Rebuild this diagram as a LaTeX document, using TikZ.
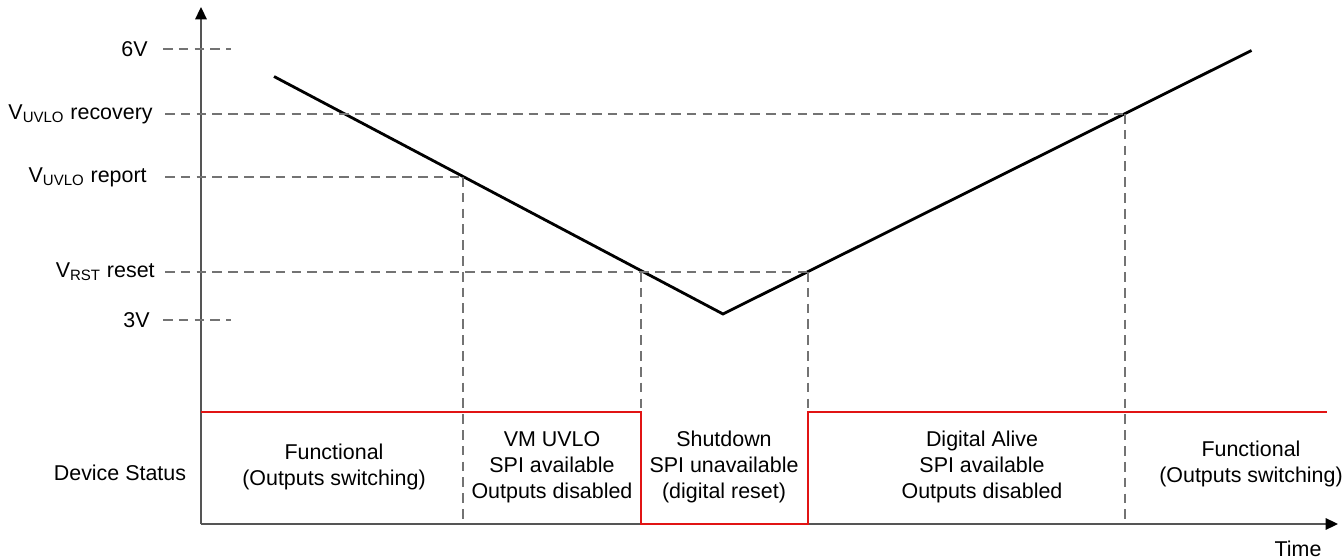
\documentclass[tikz,border=0pt]{standalone}
\usepackage{fontspec}
\setmainfont{Liberation Sans}
\usepackage{xcolor}
\usepackage{tikz}
\usetikzlibrary{arrows.meta}
\definecolor{axisgr}{RGB}{85,85,85}
\definecolor{guidegr}{RGB}{115,115,115}
\definecolor{statred}{RGB}{225,20,20}

\begin{document}
\begin{tikzpicture}[x=0.02cm,y=-0.02cm,
    every node/.style={font=\fontsize{12.2}{14.8}\selectfont,align=center,inner sep=0pt},
    guide/.style={guidegr,line width=0.9pt,dash pattern=on 5.5pt off 3.5pt},
    axis/.style={axisgr,line width=1pt,-{Triangle[length=7pt,width=6.5pt,color=black]}},
    supply/.style={black,line width=1.6pt},
    status/.style={statred,line width=1.6pt}]
    \useasboundingbox (0,0) rectangle (1342,560);

    % Axes
    \coordinate (O) at (201,524);
    \coordinate (ytop) at (201,7);
    \coordinate (xend) at (1338,524);
    \draw[axis] (O) -- (ytop);
    \draw[axis] (O) -- (xend);
    \node (time) at (1298,549) {Time};

    % Voltage levels
    \node[anchor=east] (v6) at (148,49) {6V};
    \node[anchor=east] (vrec) at (153,114) {V\textsubscript{UVLO} recovery};
    \node[anchor=east] (vrep) at (147,177) {V\textsubscript{UVLO} report};
    \node[anchor=east] (vrst) at (155,272) {V\textsubscript{RST} reset};
    \node[anchor=east] (v3) at (150,320) {3V};

    % Supply ramp
    \coordinate (s0) at (274,76.5);
    \coordinate (smin) at (723,314);
    \coordinate (s1) at (1251.5,50.5);
    \draw[supply] (s0) -- (smin) -- (s1);

    % Threshold crossings
    \coordinate (xrep) at (463,177);
    \coordinate (xdn) at (641,272);
    \coordinate (xup) at (808,272);
    \coordinate (xrec) at (1125,114);

    % Guides
    \draw[guide] (163,49) -- (231,49);
    \draw[guide] (163,320) -- (231,320);
    \draw[guide] (165,114) -- (xrec);
    \draw[guide] (165,177) -- (xrep);
    \draw[guide] (165,272) -- (xup);
    \draw[guide] (xrep) -- (xrep |- O);
    \draw[guide] (xdn) -- (641,412);
    \draw[guide] (xup) -- (808,412);
    \draw[guide] (xrec) -- (xrec |- O);

    % Device status
    \draw[status] (201,412) -- (641,412) -- (641,524) -- (808,524) -- (808,412) -- (1327,412);
    \node (devst) at (120,473) {Device Status};
    \node (func1) at (334,467) {Functional\\(Outputs switching)};
    \node (uvlo) at (552,467) {VM UVLO\\SPI available\\Outputs disabled};
    \node (shut) at (724,467) {Shutdown\\SPI unavailable\\(digital reset)};
    \node (alive) at (982,467) {Digital Alive\\SPI available\\Outputs disabled};
    \node (func2) at (1251,464) {Functional\\(Outputs switching)};
  \end{tikzpicture}
\end{document}
